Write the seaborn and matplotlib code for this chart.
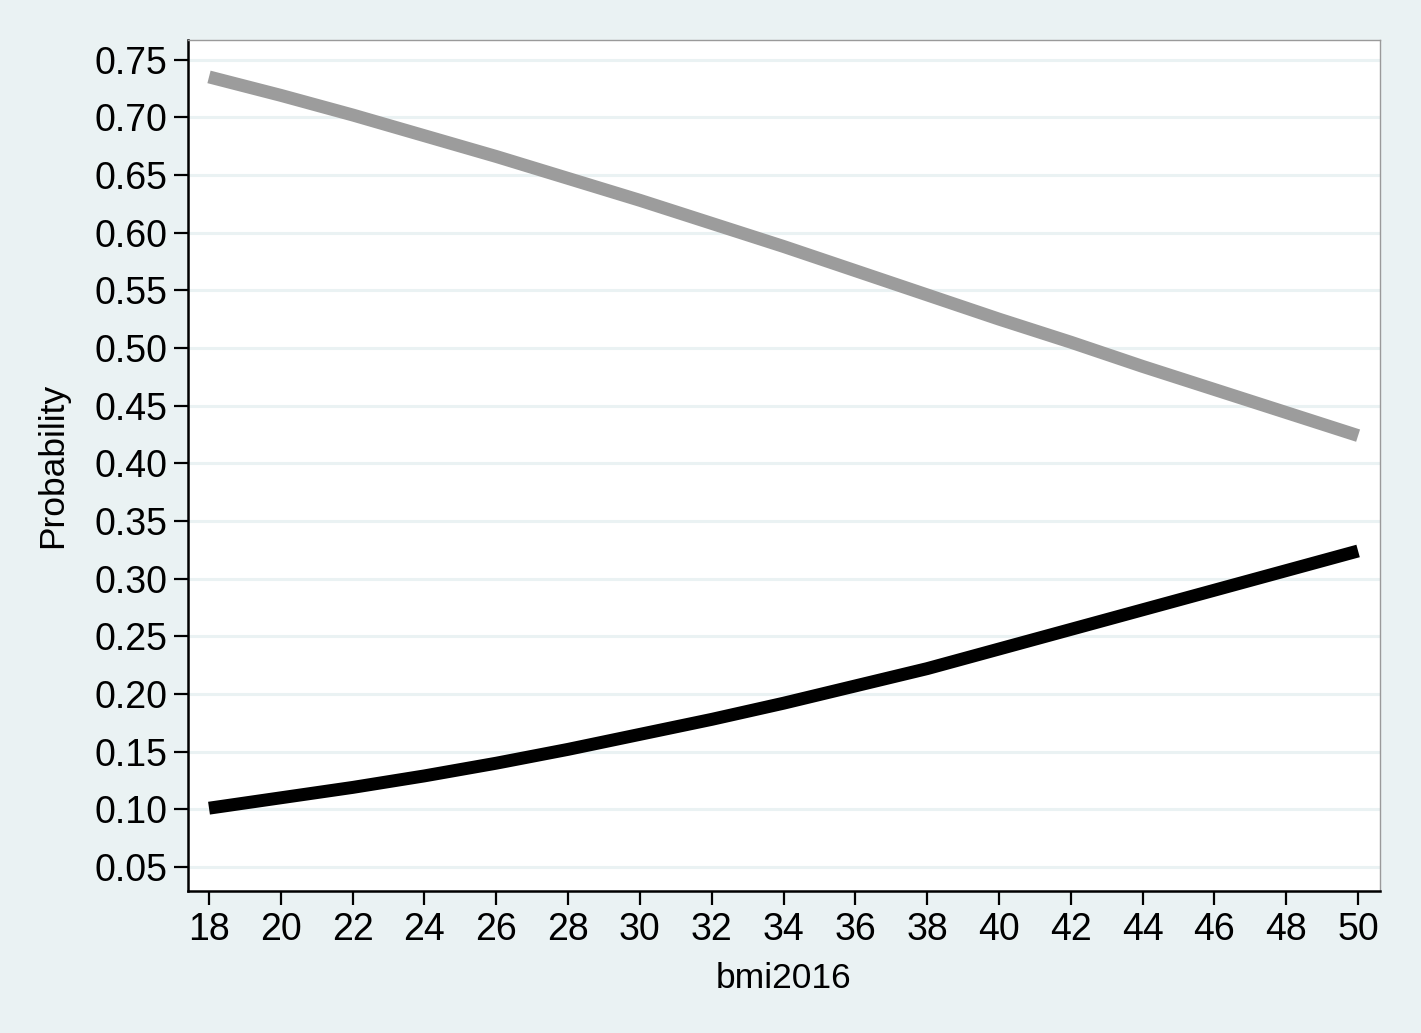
import numpy as np
import pandas as pd
import matplotlib
matplotlib.use("Agg")
import matplotlib.pyplot as plt
import seaborn as sns

bmi = [18, 20, 22, 24, 26, 28, 30, 32, 34, 36, 38, 40, 42, 44, 46, 48, 50]
prob_gray = [0.735, 0.719, 0.702, 0.684, 0.666, 0.647, 0.628, 0.608, 0.588,
             0.567, 0.546, 0.525, 0.505, 0.484, 0.464, 0.444, 0.424]
prob_black = [0.101, 0.110, 0.119, 0.129, 0.140, 0.152, 0.165, 0.178, 0.192,
              0.207, 0.222, 0.239, 0.256, 0.273, 0.290, 0.307, 0.324]
yticks = [0.05, 0.10, 0.15, 0.20, 0.25, 0.30, 0.35, 0.40, 0.45, 0.50,
          0.55, 0.60, 0.65, 0.70, 0.75]
xticks = list(range(18, 51, 2))

df = pd.DataFrame({
    "bmi2016": bmi * 2,
    "Probability": prob_gray + prob_black,
    "series": ["gray"] * len(bmi) + ["black"] * len(bmi),
})

sns.set_theme(style="white")
plt.rcParams["font.family"] = ["Liberation Sans", "DejaVu Sans"]

bg = "#EAF2F3"
fig = plt.figure(figsize=(14.21, 10.33), dpi=100, facecolor=bg)
ax = fig.add_axes([188 / 1421, 1 - 891 / 1033, (1380 - 188) / 1421, (891 - 40) / 1033])
ax.set_facecolor("white")

for y in yticks:
    ax.axhline(y, color="#EAF2F3", lw=2.2, zorder=0)

sns.lineplot(data=df, x="bmi2016", y="Probability", hue="series",
             palette={"gray": "#9C9C9C", "black": "#000000"},
             linewidth=9.3, legend=False, ax=ax, solid_capstyle="butt")

ax.set_xlim(17.415, 50.61)
ax.set_ylim(0.0292, 0.767)
ax.set_xticks(xticks)
ax.set_xticklabels([str(x) for x in xticks])
ax.set_yticks(yticks)
ax.set_yticklabels([f"{y:.2f}" for y in yticks])

ax.tick_params(axis="both", which="major", direction="out", length=10, width=1.6,
               color="black", labelsize=27, labelcolor="black", pad=5,
               bottom=True, left=True)
ax.tick_params(axis="y", pad=5)

for side in ["left", "bottom"]:
    ax.spines[side].set_color("black")
    ax.spines[side].set_linewidth(1.8)
for side in ["top", "right"]:
    ax.spines[side].set_visible(True)
    ax.spines[side].set_color("#9A9A9A")
    ax.spines[side].set_linewidth(1.0)

ax.set_xlabel("bmi2016", fontsize=25.5, color="black", labelpad=10)
ax.set_ylabel("Probability", fontsize=25.5, color="black", labelpad=18)

fig.savefig("out.png", dpi=100, facecolor=bg)
